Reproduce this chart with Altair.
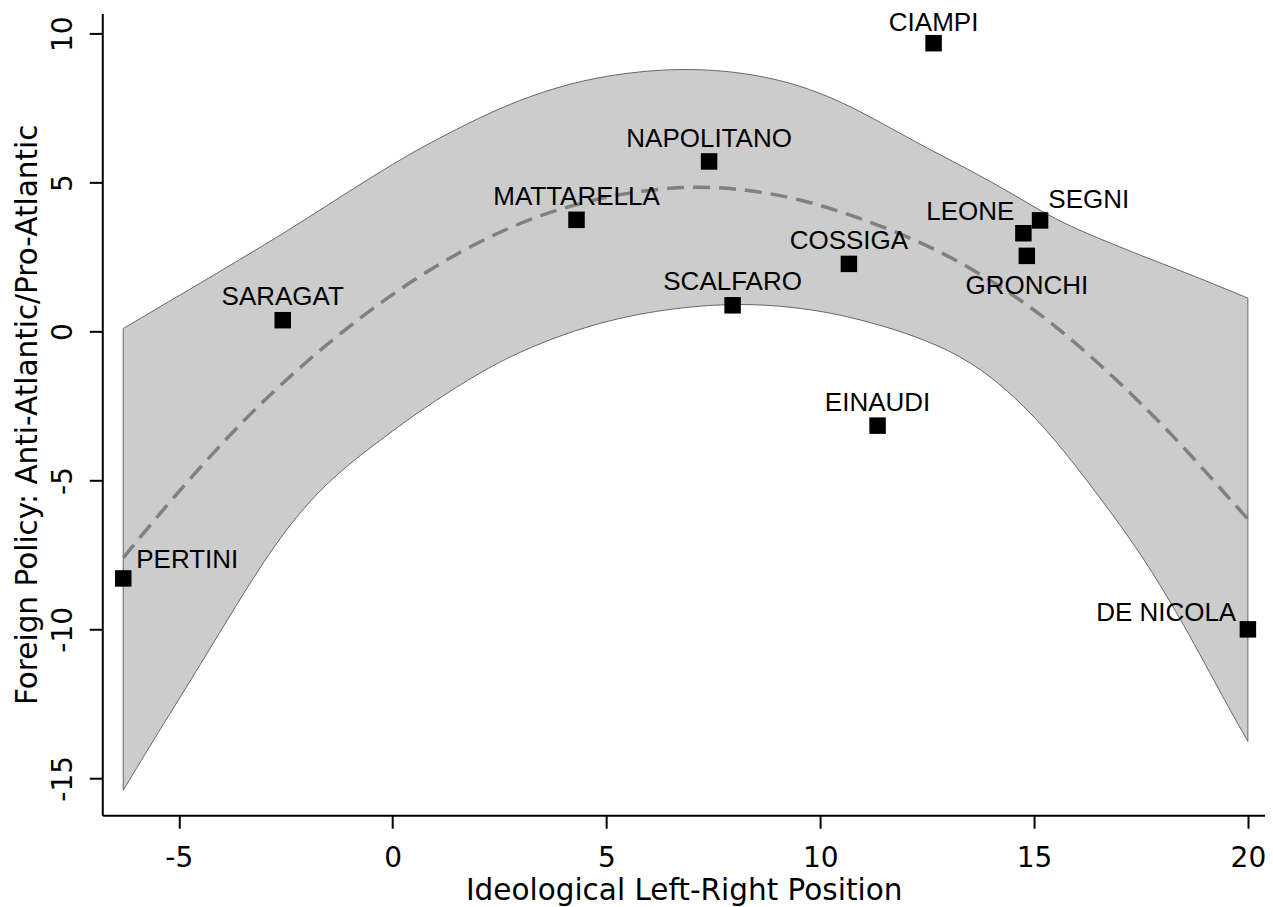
import altair as alt
import pandas as pd

# ---- data ----
names = ["PERTINI", "SARAGAT", "MATTARELLA", "NAPOLITANO", "SCALFARO", "COSSIGA",
         "EINAUDI", "CIAMPI", "LEONE", "SEGNI", "GRONCHI", "DE NICOLA"]
ideology = [-6.30, -2.57, 4.30, 7.40, 7.95, 10.67, 11.34, 12.65, 14.75, 15.14, 14.83, 20.0]
foreign = [-8.29, 0.38, 3.75, 5.71, 0.88, 2.27, -3.16, 9.68, 3.30, 3.73, 2.54, -10.0]

band_x = [-6.3, -5.5, -4.5, -3.5, -2.5, -1.5, -0.5, 0.5, 1.5, 2.5, 3.5, 4.5, 5.5, 6.5,
          7.5, 8.5, 9.5, 10.5, 11.5, 12.5, 13.5, 14.5, 15.5, 16.5, 17.5, 18.5, 19.5, 20.0]
fit_y = [-7.6, -6.2, -4.55, -3.0, -1.62, -0.38, 0.75, 1.75, 2.62, 3.35, 3.93, 4.36, 4.66, 4.83,
         4.86, 4.72, 4.45, 4.02, 3.5, 2.9, 2.15, 1.25, 0.2, -1.05, -2.4, -3.88, -5.5, -6.3]
ci_upper = [0.1, 0.78, 1.62, 2.48, 3.34, 4.26, 5.18, 6.05, 6.8, 7.5, 8.05, 8.45, 8.69, 8.81,
            8.79, 8.62, 8.28, 7.72, 6.95, 6.15, 5.42, 4.62, 3.75, 3.13, 2.55, 2.0, 1.42, 1.12]
ci_lower = [-15.4, -13.5, -11.2, -8.8, -6.6, -5.0, -3.87, -2.8, -1.85, -1.0, -0.36, 0.15,
            0.52, 0.76, 0.9, 0.92, 0.8, 0.56, 0.18, -0.3, -0.98, -2.1, -3.62, -5.5, -7.44,
            -9.81, -12.51, -13.76]

x_ticks = [-5, 0, 5, 10, 15, 20]
y_ticks = [-15, -10, -5, 0, 5, 10]

pts = pd.DataFrame({"name": names, "x": ideology, "y": foreign})
band = pd.DataFrame({"x": band_x, "fit": fit_y, "lo": ci_lower, "hi": ci_upper})

AXIS_FONT = "DejaVu Sans"
LABEL_FONT = "Liberation Sans"

xscale = alt.Scale(domain=[-6.79, 20.40], nice=False, zero=False)
yscale = alt.Scale(domain=[-16.24, 10.68], nice=False, zero=False)

xaxis = alt.Axis(
    values=x_ticks, grid=False, domainColor="black", domainWidth=2,
    tickColor="black", tickWidth=2, tickSize=13,
    labelFont=AXIS_FONT, labelFontSize=28, labelColor="black", labelPadding=16,
    labelExpr="'' + datum.value",
    title="Ideological Left-Right Position", titleFont=AXIS_FONT, titleFontSize=29.5,
    titleFontWeight="normal", titleColor="black", titleBaseline="alphabetic",
    titleX=581.5, titleY=84.3, titleAlign="center",
)
yaxis = alt.Axis(
    values=y_ticks, grid=False, domainColor="black", domainWidth=2,
    tickColor="black", tickWidth=2, tickSize=13,
    labelFont=AXIS_FONT, labelFontSize=28, labelColor="black", labelPadding=17.6,
    labelAngle=270, labelAlign="center", labelBaseline="alphabetic",
    labelExpr="'' + datum.value",
    title="Foreign Policy: Anti-Atlantic/Pro-Atlantic", titleFont=AXIS_FONT,
    titleFontSize=29.5, titleFontWeight="normal", titleColor="black",
    titleAngle=270, titleBaseline="alphabetic", titleAlign="center",
    titleX=-65.6, titleY=401,
)

area = alt.Chart(band).mark_area(
    color="#cccccc", opacity=1, stroke="#666666", strokeWidth=1, interpolate="basis"
).encode(
    x=alt.X("x:Q", scale=xscale, axis=xaxis),
    y=alt.Y("hi:Q", scale=yscale, axis=yaxis),
    y2="lo:Q",
)

line = alt.Chart(band).mark_line(
    color="#808080", strokeWidth=3.5, strokeDash=[17, 9], interpolate="basis"
).encode(x="x:Q", y="fit:Q")

points = alt.Chart(pts).mark_point(
    shape="square", filled=True, color="black", size=272, opacity=1
).encode(x="x:Q", y="y:Q")

# label placement (style): align, dx, dy
placement = {
    "PERTINI": ("left", 13, -10.5),
    "SARAGAT": ("center", 0, -15),
    "MATTARELLA": ("center", 0, -15),
    "NAPOLITANO": ("center", 0, -14.5),
    "SCALFARO": ("center", 0, -15),
    "COSSIGA": ("center", 0, -14.7),
    "EINAUDI": ("center", 0, -14.3),
    "CIAMPI": ("center", 0, -12),
    "LEONE": ("right", -9, -13.3),
    "SEGNI": ("left", 8.3, -12.4),
    "GRONCHI": ("center", 0, 38),
    "DE NICOLA": ("right", -11.7, -8.3),
}

label_layers = []
for n in names:
    al, dx, dy = placement[n]
    label_layers.append(
        alt.Chart(pts).transform_filter(alt.datum.name == n).mark_text(
            align=al, baseline="alphabetic", dx=dx, dy=dy,
            font=LABEL_FONT, fontSize=26, color="black"
        ).encode(x="x:Q", y="y:Q", text="name:N")
    )

chart = alt.layer(area, line, points, *label_layers).properties(
    width=1163, height=802,
    autosize=alt.AutoSizeParams(type="none"),
    padding={"left": 94.3, "top": 5.3, "right": 0, "bottom": 92},
    background="white",
).configure_view(stroke=None)

chart.save("out.html", embed_options={"renderer": "svg", "actions": False})
